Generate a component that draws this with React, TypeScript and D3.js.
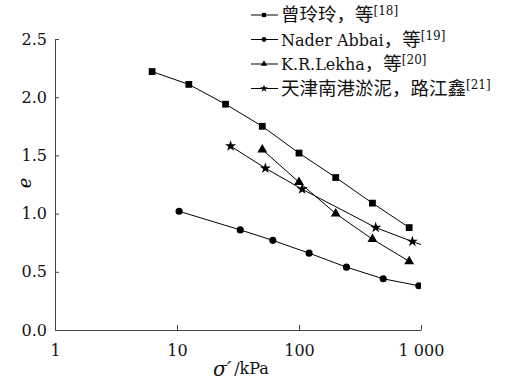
import React, { useEffect, useRef } from 'react';
import * as d3 from 'd3';

// series: [sigma' (kPa), e]
const zengPts = [[6.25, 2.22], [12.5, 2.11], [25, 1.94], [50, 1.75], [100, 1.52], [200, 1.31], [400, 1.09], [800, 0.88]];
const naderPts = [[10.4, 1.02], [33, 0.86], [61, 0.77], [121, 0.66], [245, 0.54], [490, 0.44], [960, 0.38]];
const lekhaPts = [[50, 1.55], [100, 1.27], [200, 1.0], [400, 0.78], [800, 0.59]];
const tianjinPts = [[27.5, 1.58], [53, 1.39], [106, 1.21], [425, 0.88], [850, 0.76], [1600, 0.66]];

const legendNames = ['曾玲玲，等', 'Nader Abbai，等', 'K.R.Lekha，等', '天津南港淤泥，路江鑫'];
const legendRefs = ['[18]', '[19]', '[20]', '[21]'];
const xTicks = [1, 10, 100, 1000];
const xTickLabels = ['1', '10', '100', '1 000'];
const yTicks = [0, 0.5, 1.0, 1.5, 2.0, 2.5];

const FONT = "'DejaVu Serif', 'Noto Sans CJK SC', serif";

const App = () => {
  const svgRef = useRef(null);

  useEffect(() => {
    const svg = d3.select(svgRef.current);
    const width = 505;
    const height = 380;
    svg.selectAll('*').remove();
    svg.attr('width', width).attr('height', height)
      .style('font-family', FONT);

    const x = d3.scaleLog().domain([1, 1000]).range([55, 421]);
    const y = d3.scaleLinear().domain([0, 2.5]).range([330, 39]);

    svg.append('defs').append('clipPath').attr('id', 'plotClip')
      .append('rect')
      .attr('x', x(1)).attr('y', 0)
      .attr('width', x(1000) - x(1)).attr('height', y(0));

    // axes
    const yAxis = d3.axisLeft(y).tickValues(yTicks).tickSizeInner(-4).tickSizeOuter(0)
      .tickPadding(8).tickFormat(d3.format('.1f'));
    const gy = svg.append('g').attr('transform', `translate(${x(1)},0)`).call(yAxis);
    gy.attr('font-family', null).attr('font-size', 16);
    gy.selectAll('text').attr('fill', '#111');
    gy.select('.domain').attr('stroke', '#444');
    gy.selectAll('.tick line').attr('stroke', '#444');

    const xAxis = d3.axisBottom(x).tickValues(xTicks).tickSizeInner(-5).tickSizeOuter(0)
      .tickPadding(15).tickFormat((d, i) => xTickLabels[i]);
    const gx = svg.append('g').attr('transform', `translate(0,${y(0)})`).call(xAxis);
    gx.attr('font-family', null).attr('font-size', 16);
    gx.selectAll('text').attr('fill', '#111');
    gx.select('.domain').attr('stroke', '#444');
    gx.selectAll('.tick line').attr('stroke', '#444');

    // axis titles
    svg.append('text')
      .attr('transform', 'translate(31,183) rotate(-90)')
      .attr('text-anchor', 'middle')
      .attr('font-style', 'italic').attr('font-size', 18)
      .text('e');
    const xt = svg.append('text')
      .attr('x', 213).attr('y', 376)
      .attr('fill', '#111');
    xt.append('tspan').attr('font-style', 'italic').attr('font-size', 20).text('σ′');
    xt.append('tspan').attr('font-size', 16).attr('dx', 3).attr('dy', -2).text('/kPa');

    const series = [
      { pts: zengPts, sym: d3.symbolSquare, size: 46 },
      { pts: naderPts, sym: d3.symbolCircle, size: 40 },
      { pts: lekhaPts, sym: d3.symbolTriangle, size: 42 },
      { pts: tianjinPts, sym: d3.symbolStar, size: 38 },
    ];

    const line = d3.line().x((d) => x(d[0])).y((d) => y(d[1]));
    const plot = svg.append('g').attr('clip-path', 'url(#plotClip)');

    series.forEach((s) => {
      plot.append('path')
        .datum(s.pts)
        .attr('fill', 'none')
        .attr('stroke', '#000')
        .attr('stroke-width', 1)
        .attr('d', line);
      plot.selectAll(null)
        .data(s.pts)
        .enter()
        .append('path')
        .attr('transform', (d) => `translate(${x(d[0])},${y(d[1])})`)
        .attr('d', d3.symbol().type(s.sym).size(s.size))
        .attr('fill', '#000');
    });

    // legend: CJK runs a bit larger than latin runs
    const cjk = /[\u3000-\u9fff\uff00-\uffef]+|[^\u3000-\u9fff\uff00-\uffef]+/g;
    const legend = svg.append('g');
    series.forEach((s, i) => {
      const ly = 15 + i * 24.5;
      legend.append('line')
        .attr('x1', 251).attr('x2', 278).attr('y1', ly).attr('y2', ly)
        .attr('stroke', '#000').attr('stroke-width', 1);
      legend.append('path')
        .attr('transform', `translate(264,${ly})`)
        .attr('d', d3.symbol().type(s.sym).size(18))
        .attr('fill', '#000');
      const t = legend.append('text')
        .attr('x', 281).attr('y', ly + 6)
        .attr('fill', '#111');
      legendNames[i].match(cjk).forEach((run) => {
        const isCjk = /[\u3000-\u9fff\uff00-\uffef]/.test(run);
        t.append('tspan')
          .attr('font-size', isCjk ? 18.5 : 16)
          .style('font-family', isCjk ? "'Noto Sans CJK SC', sans-serif" : FONT)
          .text(run);
      });
      t.append('tspan').attr('font-size', 12).attr('dy', -6).text(legendRefs[i]);
    });
  }, []);

  return <svg ref={svgRef} style={{ position: 'absolute', left: 0, top: 0 }} />;
};

export default App;
